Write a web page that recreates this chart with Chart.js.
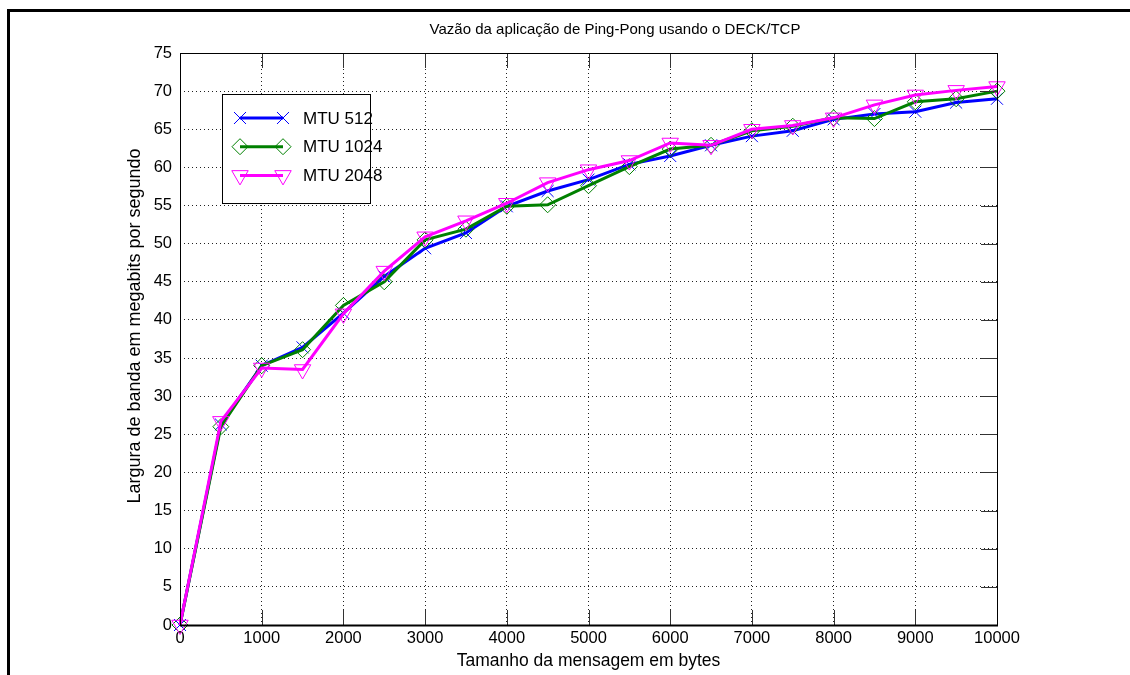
<!DOCTYPE html>
<html>
<head>
<meta charset="utf-8">
<script src="https://cdn.jsdelivr.net/npm/chart.js@4.4.0/dist/chart.umd.min.js"></script>
<style>
  html, body { margin: 0; padding: 0; background: #fff; }
  #wrap { position: relative; width: 1130px; height: 675px; overflow: hidden; background: #fff; }
  #chart { position: absolute; left: 0; top: 0; }
  #frame { position: absolute; left: 7px; top: 9px; width: 1200px; height: 700px;
           border-top: 3px solid #000; border-left: 3px solid #000; pointer-events: none; }
</style>
</head>
<body>
<div id="wrap">
  <canvas id="chart" width="1130" height="675"></canvas>
  <div id="frame"></div>
</div>
<script>
// message sizes (bytes)
const sizes = [0, 500, 1000, 1500, 2000, 2500, 3000, 3500, 4000, 4500, 5000,
               5500, 6000, 6500, 7000, 7500, 8000, 8500, 9000, 9500, 10000];

// bandwidth in Mbit/s
const mtu512  = [0, 26.3, 34.0, 36.4, 40.9, 45.7, 49.4, 51.4, 54.9, 56.9, 58.4,
                 60.4, 61.5, 62.9, 64.1, 64.8, 66.3, 67.0, 67.3, 68.5, 69.0];
const mtu1024 = [0, 26.0, 34.0, 36.1, 41.9, 45.0, 50.5, 51.9, 54.9, 55.1, 57.6,
                 60.1, 62.4, 62.9, 64.8, 65.4, 66.5, 66.4, 68.6, 69.0, 70.0];
const mtu2048 = [0, 26.7, 33.7, 33.5, 40.8, 46.4, 50.9, 53.0, 55.3, 58.0, 59.7,
                 60.9, 63.2, 62.9, 65.0, 65.5, 66.5, 68.2, 69.5, 70.1, 70.6];

const seriesNames = ['MTU 512', 'MTU 1024', 'MTU 2048'];
const xTicks = [0, 1000, 2000, 3000, 4000, 5000, 6000, 7000, 8000, 9000, 10000];
const yTicks = [0, 5, 10, 15, 20, 25, 30, 35, 40, 45, 50, 55, 60, 65, 70, 75];

const chartTitle = 'Vazão da aplicação de Ping-Pong usando o DECK/TCP';
const yTitle = 'Largura de banda em megabits por segundo';

const FONT = '"Liberation Sans", Arial, Helvetica, sans-serif';
Chart.defaults.font.family = FONT;
Chart.defaults.color = '#000';

function pts(ys) {
  return sizes.map((s, i) => ({ x: s, y: ys[i] }));
}

const styles = [
  { color: '#0000ff', pointStyle: 'crossRot', radius: 8.5, rotation: 0 },
  { color: '#008000', pointStyle: 'rectRot', radius: 8, rotation: 0 },
  { color: '#ff00ff', pointStyle: 'triangle', radius: 9.5, rotation: 180 }
];

const datasets = [mtu512, mtu1024, mtu2048].map((ys, i) => ({
  label: seriesNames[i],
  data: pts(ys),
  borderColor: styles[i].color,
  backgroundColor: 'rgba(0,0,0,0)',
  borderWidth: 3,
  pointStyle: styles[i].pointStyle,
  pointRadius: styles[i].radius,
  pointRotation: styles[i].rotation,
  pointBorderColor: styles[i].color,
  pointBackgroundColor: 'rgba(0,0,0,0)',
  pointBorderWidth: 1,
  tension: 0,
  clip: false,
  order: 3 - i
}));

// plot box + inward tick marks, matlab style
const boxPlugin = {
  id: 'box',
  afterDatasetsDraw(chart) {
    const { ctx, chartArea: a, scales } = chart;
    ctx.save();
    ctx.strokeStyle = '#333';
    ctx.lineWidth = 1;
    ctx.beginPath();
    xTicks.forEach(v => {
      const x = Math.round(scales.x.getPixelForValue(v)) + 0.5;
      ctx.moveTo(x, a.bottom); ctx.lineTo(x, a.bottom - 15);
      ctx.moveTo(x, a.top); ctx.lineTo(x, a.top + 15);
    });
    yTicks.forEach(v => {
      const y = Math.round(scales.y.getPixelForValue(v)) + 0.5;
      ctx.moveTo(a.right, y); ctx.lineTo(a.right - 16, y);
    });
    ctx.stroke();
    ctx.strokeStyle = '#000';
    ctx.strokeRect(Math.round(a.left) + 0.5, Math.round(a.top) + 0.5,
                   Math.round(a.right - a.left), Math.round(a.bottom - a.top));
    ctx.lineWidth = 2;
    ctx.beginPath();
    ctx.moveTo(a.left, Math.round(a.bottom) + 0.5);
    ctx.lineTo(a.right + 1, Math.round(a.bottom) + 0.5);
    ctx.stroke();
    ctx.restore();
  }
};

// title and y label, placed like the matlab export
const textPlugin = {
  id: 'texts',
  afterDraw(chart) {
    const { ctx } = chart;
    ctx.save();
    ctx.fillStyle = '#000';
    ctx.textAlign = 'center';
    ctx.textBaseline = 'middle';
    ctx.font = '15px ' + FONT;
    ctx.fillText(chartTitle, 615, 30);
    ctx.translate(135, 326);
    ctx.rotate(-Math.PI / 2);
    ctx.font = '18px ' + FONT;
    ctx.fillText(yTitle, 0, 0);
    ctx.restore();
  }
};

function drawMarker(ctx, st, x, y) {
  const opts = { pointStyle: st.pointStyle, radius: st.radius, rotation: st.rotation, borderWidth: 1 };
  ctx.strokeStyle = st.color;
  ctx.fillStyle = 'rgba(0,0,0,0)';
  ctx.lineWidth = 1;
  Chart.helpers.drawPoint(ctx, opts, x, y);
}

// legend box with line + marker at both ends
const legendPlugin = {
  id: 'matLegend',
  afterDraw(chart) {
    const { ctx } = chart;
    const bx = 222, by = 94, bw = 148, bh = 109;
    ctx.save();
    ctx.fillStyle = '#fff';
    ctx.fillRect(bx, by, bw, bh);
    ctx.strokeStyle = '#000';
    ctx.lineWidth = 1;
    ctx.strokeRect(bx + 0.5, by + 0.5, bw, bh);
    seriesNames.forEach((name, i) => {
      const y = 118 + i * 28.7;
      const st = styles[i];
      ctx.strokeStyle = st.color;
      ctx.lineWidth = 3;
      ctx.beginPath();
      ctx.moveTo(240, y); ctx.lineTo(283, y);
      ctx.stroke();
      drawMarker(ctx, st, 240, y);
      drawMarker(ctx, st, 283, y);
      ctx.fillStyle = '#000';
      ctx.font = '17px ' + FONT;
      ctx.textBaseline = 'middle';
      ctx.textAlign = 'left';
      ctx.fillText(name, 303, y + 1);
    });
    ctx.restore();
  }
};

new Chart(document.getElementById('chart'), {
  type: 'line',
  data: { datasets: datasets },
  options: {
    responsive: false,
    animation: false,
    layout: { padding: { left: 0, right: 133, top: 53, bottom: 0 } },
    plugins: {
      legend: { display: false },
      tooltip: { enabled: false },
      title: { display: false }
    },
    scales: {
      x: {
        type: 'linear',
        min: 0,
        max: 10000,
        afterFit(scale) { scale.height = 50; },
        afterBuildTicks(scale) { scale.ticks = xTicks.map(v => ({ value: v })); },
        ticks: {
          font: { size: 16.5 }, padding: 4, maxRotation: 0, autoSkip: false, color: '#000',
          callback: v => String(v)
        },
        grid: { color: '#222', lineWidth: 1, drawTicks: false },
        border: { display: false, dash: [1, 3] },
        title: {
          display: true,
          text: 'Tamanho da mensagem em bytes',
          font: { size: 17.5 },
          color: '#000',
          padding: { top: 0, bottom: 3.5 }
        }
      },
      y: {
        type: 'linear',
        min: 0,
        max: 75,
        afterFit(scale) { scale.width = 180; },
        afterBuildTicks(scale) { scale.ticks = yTicks.map(v => ({ value: v })); },
        ticks: { font: { size: 16.5 }, padding: 8, autoSkip: false, color: '#000' },
        grid: { color: '#222', lineWidth: 1, drawTicks: false },
        border: { display: false, dash: [1, 3] }
      }
    }
  },
  plugins: [boxPlugin, textPlugin, legendPlugin]
});
</script>
</body>
</html>
